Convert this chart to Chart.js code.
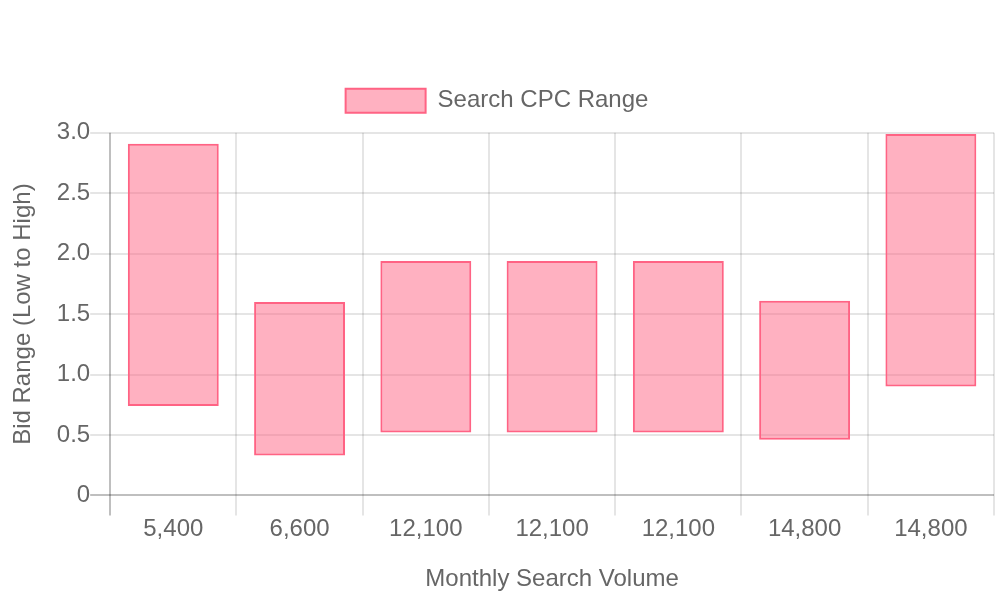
<!DOCTYPE html>
<html>
<head>
<meta charset="utf-8">
<title>Search CPC Range</title>
<script src="https://cdn.jsdelivr.net/npm/chart.js@4"></script>
<style>
  html, body { margin: 0; padding: 0; background: #fff; }
  #wrap { width: 1000px; height: 600px; }
</style>
</head>
<body>
<div id="wrap"><canvas id="cpcChart"></canvas></div>
<script>
// volumes de recherche (axe x)
const volumes = ['5,400', '6,600', '12,100', '12,100', '12,100', '14,800', '14,800'];
// enchères basses / hautes
const bidLow = [0.74, 0.33, 0.52, 0.52, 0.52, 0.46, 0.90];
const bidHigh = [2.91, 1.60, 1.94, 1.94, 1.94, 1.61, 2.99];

const ranges = bidLow.map((low, i) => [low, bidHigh[i]]);

const gridLight = 'rgba(0, 0, 0, 0.1)';
const gridDark = 'rgba(0, 0, 0, 0.25)';

// un peu plus d'espace sous la légende
const legendMargin = {
    id: 'legendMargin',
    beforeInit(chart) {
        const origFit = chart.legend.fit;
        chart.legend.fit = function fit() {
            origFit.bind(chart.legend)();
            this.height += 10;
        };
    }
};

const ctx = document.getElementById('cpcChart').getContext('2d');
new Chart(ctx, {
    type: 'bar',
    data: {
        labels: volumes,
        datasets: [{
            label: 'Search CPC Range',
            data: ranges,
            backgroundColor: 'rgba(255, 99, 132, 0.5)',
            borderColor: 'rgba(255, 99, 132, 1)',
            borderWidth: 2,
            borderSkipped: false
        }]
    },
    plugins: [legendMargin],
    options: {
        responsive: true,
        maintainAspectRatio: false,
        animation: false,
        layout: { padding: { right: 6 } },
        plugins: {
            title: {
                display: true,
                text: '',
                padding: 20,
                font: { size: 24 }
            },
            legend: {
                labels: {
                    boxWidth: 80,
                    padding: 20,
                    font: { size: 24 }
                }
            },
            tooltip: { enabled: false }
        },
        scales: {
            x: {
                title: {
                    display: true,
                    text: 'Monthly Search Volume',
                    font: { size: 24 },
                    padding: { top: 21, bottom: 6 }
                },
                ticks: { font: { size: 24 }, padding: 0 },
                grid: {
                    lineWidth: 2,
                    tickLength: 20,
                    color: c => c.index === 0 ? gridDark : gridLight
                },
                border: { display: false }
            },
            y: {
                min: 0,
                max: 3,
                title: {
                    display: true,
                    text: 'Bid Range (Low to High)',
                    font: { size: 24 },
                    padding: { top: 9, bottom: 19 }
                },
                ticks: { font: { size: 24 }, padding: 0, stepSize: 0.5 },
                grid: {
                    lineWidth: 2,
                    tickLength: 20,
                    color: c => (c.tick && c.tick.value === 0) ? gridDark : gridLight
                },
                border: { display: false }
            }
        }
    }
});
</script>
</body>
</html>
